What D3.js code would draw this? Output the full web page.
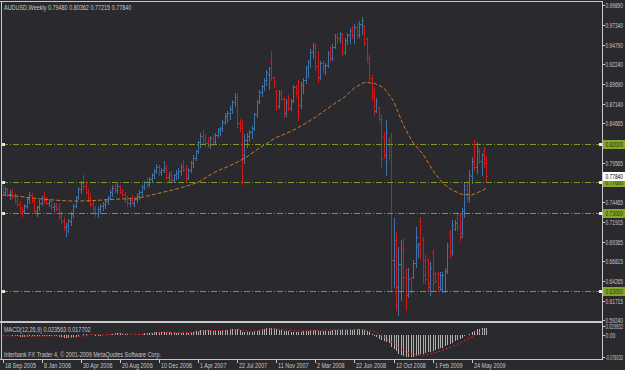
<!DOCTYPE html>
<html>
<head>
<meta charset="utf-8">
<script src="https://cdnjs.cloudflare.com/ajax/libs/d3/7.8.5/d3.min.js"></script>
<style>
  body { margin: 0; background: #2a292d; }
  svg text { font-family: "Liberation Sans", Arial, sans-serif; font-size: 7px; }
</style>
</head>
<body>
<div id="chart"></div>
<script>
// weekly AUDUSD bars, 18 Sep 2005 .. 5 Jul 2009 (199 bars)
const open = [
  .7660,.7570,.7610,.7545,.7580,.7520,.7465,.7420,.7350,.7330,
  .7400,.7480,.7540,.7470,.7330,.7380,.7440,.7500,.7470,.7440,
  .7460,.7380,.7400,.7350,.7260,.7200,.7120,.7150,.7200,.7290,
  .7400,.7510,.7610,.7690,.7650,.7580,.7500,.7420,.7360,.7300,
  .7350,.7390,.7420,.7460,.7500,.7580,.7630,.7600,.7650,.7580,
  .7550,.7480,.7430,.7470,.7440,.7480,.7530,.7570,.7640,.7700,
  .7680,.7750,.7790,.7850,.7900,.7830,.7860,.7880,.7770,.7800,
  .7730,.7790,.7820,.7850,.7900,.7870,.7760,.7860,.7950,.8020,
  .8100,.8220,.8300,.8260,.8210,.8180,.8270,.8220,.8310,.8380,
  .8400,.8480,.8560,.8600,.8650,.8740,.8800,.8470,.8400,.8050,
  .8250,.8300,.8350,.8400,.8580,.8740,.8860,.8940,.9020,.9100,
  .9250,.9060,.8880,.8680,.8850,.8780,.8600,.8740,.8660,.8750,
  .8930,.8870,.8700,.8960,.9020,.9180,.9250,.9380,.9460,.9200,
  .9060,.9240,.9200,.9210,.9370,.9300,.9450,.9580,.9560,.9620,
  .9380,.9540,.9600,.9650,.9600,.9710,.9600,.9750,.9720,.9550,
  .9300,.9050,.8900,.8620,.8660,.8520,.8300,.8050,.8250,.8200,
  .6700,.6950,.6350,.6650,.6850,.6480,.6250,.6460,.6480,.6660,
  .6880,.7200,.6950,.6700,.6700,.6350,.6800,.6520,.6520,.6350,
  .6320,.6300,.6560,.7050,.6800,.7100,.7300,.7280,.7000,.7330,
  .7650,.7500,.7780,.8200,.7900,.8100,.7980,.8100,.7948
];
const high = [
  .7670,.7640,.7630,.7600,.7610,.7560,.7520,.7460,.7400,.7420,
  .7500,.7570,.7560,.7500,.7400,.7470,.7530,.7570,.7510,.7480,
  .7470,.7430,.7430,.7440,.7330,.7250,.7170,.7230,.7320,.7420,
  .7530,.7640,.7720,.7790,.7720,.7620,.7560,.7470,.7400,.7380,
  .7420,.7450,.7490,.7530,.7600,.7660,.7680,.7690,.7670,.7620,
  .7570,.7530,.7500,.7540,.7500,.7560,.7600,.7660,.7720,.7760,
  .7770,.7820,.7870,.7940,.7930,.7890,.7970,.7920,.7830,.7850,
  .7810,.7860,.7880,.7940,.7990,.7920,.7880,.7970,.8050,.8120,
  .8240,.8340,.8370,.8330,.8290,.8300,.8320,.8340,.8400,.8420,
  .8500,.8590,.8620,.8680,.8760,.8850,.8850,.8520,.8500,.8320,
  .8340,.8380,.8430,.8600,.8760,.8890,.8960,.9050,.9150,.9190,
  .9400,.9060,.8892,.8892,.8890,.8800,.8780,.8830,.8780,.8960,
  .8960,.9020,.9000,.9050,.9200,.9280,.9420,.9500,.9480,.9400,
  .9270,.9260,.9240,.9400,.9460,.9480,.9620,.9630,.9640,.9630,
  .9560,.9630,.9690,.9720,.9740,.9760,.9780,.9834,.9731,.9576,
  .9344,.9086,.8931,.8789,.8673,.8569,.8350,.8505,.8286,.8337,
  .7240,.7060,.6866,.6956,.6982,.6595,.6595,.6466,.6698,.7124,
  .6918,.7253,.6995,.6763,.6724,.6672,.6827,.6543,.6543,.6543,
  .6543,.6595,.6918,.7085,.7215,.7215,.7318,.7305,.7369,.7692,
  .7692,.7860,.8027,.8247,.8221,.8144,.8079,.8157,.8036
];
const low = [
  .7540,.7545,.7520,.7480,.7500,.7440,.7400,.7320,.7270,.7300,
  .7370,.7440,.7450,.7300,.7260,.7340,.7410,.7440,.7420,.7400,
  .7360,.7330,.7340,.7230,.7180,.7080,.7010,.7060,.7150,.7250,
  .7380,.7490,.7560,.7620,.7560,.7460,.7390,.7320,.7260,.7250,
  .7300,.7340,.7370,.7420,.7480,.7530,.7570,.7560,.7560,.7530,
  .7450,.7400,.7390,.7420,.7400,.7450,.7480,.7540,.7610,.7640,
  .7650,.7710,.7760,.7820,.7800,.7790,.7840,.7740,.7720,.7700,
  .7700,.7750,.7760,.7800,.7850,.7700,.7740,.7840,.7900,.7990,
  .8080,.8160,.8200,.8170,.8160,.8150,.8180,.8190,.8280,.8310,
  .8360,.8450,.8480,.8520,.8600,.8690,.8420,.8360,.7680,.7950,
  .8160,.8240,.8270,.8380,.8540,.8720,.8820,.8890,.8960,.8900,
  .9020,.8930,.8634,.8660,.8760,.8540,.8560,.8630,.8640,.8740,
  .8820,.8510,.8660,.8850,.8980,.9060,.9190,.9300,.9150,.8990,
  .9030,.9130,.9100,.9190,.9270,.9280,.9440,.9500,.9510,.9340,
  .9360,.9490,.9500,.9560,.9500,.9560,.9580,.9620,.9473,.9254,
  .9021,.8763,.8569,.8608,.8505,.7898,.8015,.7795,.7989,.6311,
  .6350,.6053,.5989,.6182,.6311,.6053,.6221,.6273,.6466,.6608,
  .6737,.6724,.6402,.6402,.6311,.6247,.6311,.6414,.6311,.6311,
  .6285,.6285,.6530,.6737,.6763,.7085,.7085,.6956,.6995,.7253,
  .7447,.7447,.7692,.7860,.7821,.7950,.7795,.7899,.7722
];
const close = [
  .7570,.7610,.7545,.7580,.7520,.7465,.7420,.7350,.7330,.7400,
  .7480,.7540,.7470,.7330,.7380,.7440,.7500,.7470,.7440,.7460,
  .7380,.7400,.7350,.7260,.7200,.7120,.7150,.7200,.7290,.7400,
  .7510,.7610,.7690,.7650,.7580,.7500,.7420,.7360,.7300,.7350,
  .7390,.7420,.7460,.7500,.7580,.7630,.7600,.7650,.7580,.7550,
  .7480,.7430,.7470,.7440,.7480,.7530,.7570,.7640,.7700,.7680,
  .7750,.7790,.7850,.7900,.7830,.7860,.7880,.7770,.7800,.7730,
  .7790,.7820,.7850,.7900,.7870,.7760,.7860,.7950,.8020,.8100,
  .8220,.8300,.8260,.8210,.8180,.8270,.8220,.8310,.8380,.8400,
  .8480,.8560,.8600,.8650,.8740,.8800,.8470,.8400,.8050,.8250,
  .8300,.8350,.8400,.8580,.8740,.8860,.8940,.9020,.9120,.9170,
  .9060,.8960,.8680,.8850,.8780,.8600,.8740,.8660,.8750,.8930,
  .8870,.8700,.8960,.9020,.9180,.9250,.9380,.9460,.9200,.9060,
  .9240,.9200,.9210,.9370,.9300,.9450,.9580,.9560,.9620,.9380,
  .9540,.9600,.9650,.9600,.9710,.9600,.9750,.9790,.9500,.9300,
  .9050,.8800,.8620,.8750,.8520,.8000,.8050,.8350,.8050,.6700,
  .6950,.6350,.6650,.6850,.6480,.6250,.6450,.6300,.6660,.7000,
  .6900,.6800,.6500,.6450,.6400,.6600,.6400,.6430,.6350,.6500,
  .6500,.6560,.6880,.6800,.7150,.7180,.7120,.7050,.7330,.7620,
  .7500,.7800,.7980,.7900,.8100,.7980,.8050,.7948,.7784
];

// moving average every 4th bar
const maBar = [0,4,8,12,16,20,24,28,32,36,40,44,48,52,56,60,64,68,72,76,80,84,88,92,96,100,
  104,108,112,116,120,124,128,132,136,140,144,148,152,156,160,164,168,172,176,180,184,188,192,196,198];
const maVal = [.7537,.7530,.7515,.7500,.7485,.7475,.7465,.7460,.7460,.7465,.7470,.7478,.7485,.7490,
  .7500,.7530,.7560,.7590,.7620,.7660,.7700,.7780,.7850,.7900,.7960,.8030,.8120,.8200,.8280,.8330,
  .8390,.8460,.8540,.8630,.8720,.8800,.8920,.8990,.8980,.8920,.8750,.8440,.8210,.8066,.7860,.7692,
  .7600,.7545,.7537,.7590,.7627];

// MACD(12,26,9) histogram, one value per bar
const macd = [
  -.002,-.002,-.003,-.003,-.004,-.005,-.006,-.008,-.009,-.009,
  -.008,-.006,-.005,-.006,-.006,-.005,-.004,-.004,-.004,-.004,
  -.005,-.005,-.005,-.007,-.009,-.012,-.013,-.013,-.012,-.010,
  -.007,-.004,-.001,.001,.001,0,-.002,-.003,-.005,-.005,
  -.004,-.003,-.002,-.001,.001,.003,.004,.004,.004,.003,
  .002,.001,0,-.001,-.001,0,.001,.002,.004,.005,
  .006,.007,.008,.009,.009,.009,.009,.008,.008,.007,
  .007,.007,.007,.007,.007,.006,.006,.007,.009,.011,
  .013,.015,.016,.016,.015,.015,.014,.014,.014,.014,
  .015,.016,.017,.018,.019,.020,.018,.015,.010,.009,
  .009,.009,.010,.011,.014,.017,.019,.021,.023,.024,
  .024,.022,.019,.017,.015,.013,.012,.011,.010,.010,
  .010,.009,.010,.011,.012,.013,.015,.017,.016,.014,
  .014,.014,.013,.014,.014,.015,.016,.017,.017,.016,
  .016,.016,.017,.017,.018,.018,.019,.020,.016,.013,
  .008,.002,-.004,-.008,-.014,-.020,-.024,-.026,-.030,-.042,
  -.050,-.058,-.066,-.070,-.073,-.077,-.078,-.078,-.077,-.074,
  -.071,-.068,-.066,-.064,-.062,-.060,-.057,-.054,-.051,-.048,
  -.045,-.041,-.036,-.032,-.028,-.023,-.019,-.015,-.011,-.006,
  -.002,.003,.009,.014,.018,.021,.023,.024,.023563
];
// MACD signal line, read every 4th bar
const sigBar = maBar;
const sigVal = [-.004,-.004,-.005,-.006,-.005,-.004,-.005,-.010,-.006,0,-.001,0,.003,.002,0,.003,
  .007,.008,.007,.007,.010,.014,.014,.015,.018,.012,.012,.018,.021,.017,.013,.013,.015,.016,.017,
  .018,.018,.018,.010,-.008,-.030,-.055,-.070,-.072,-.065,-.055,-.042,-.026,-.008,.011,.017702];

const priceTicks = [0.99890,0.97340,0.94790,0.92240,0.89690,0.87140,0.84665,0.79565,
  0.74465,0.71915,0.69365,0.66815,0.64265,0.61715,0.59240];
const levels = [0.82, 0.77, 0.73, 0.63];
const dateBar = [0,16,32,48,64,80,96,112,128,144,160,176,192];
const dateLabels = ["18 Sep 2005","8 Jan 2006","30 Apr 2006","20 Aug 2006","10 Dec 2006",
  "1 Apr 2007","22 Jul 2007","11 Nov 2007","2 Mar 2008","22 Jun 2008","12 Oct 2008",
  "1 Feb 2009","24 May 2009"];
const macdTicks = [0.029932, 0, -0.078033];
const macdTickLabels = ["0.029932", "0.00", "-0.078033"];

const W = 625, H = 370;
const axisX = 602;
const textColor = "#c8c8c8", frameColor = "#c8c8c8";
const upColor = "#3f72a6", downColor = "#cc1a1a";
const levelColor = "#7a9a28";

const svg = d3.select("#chart").append("svg")
  .attr("width", W).attr("height", H)
  .style("display", "block");

svg.append("rect").attr("width", W).attr("height", H).attr("fill", "#2a292d");

const x = d3.scaleLinear().domain([0, 198]).range([2.5, 2.5 + 198 * 2.444]);
const y = d3.scaleLinear().domain([0.5924, 0.9989]).range([320, 5]);
const ym = d3.scaleLinear().domain([-0.078033, 0.029932]).range([357, 326]);

// squeeze text horizontally like the narrow terminal font
function squeeze(sel, k) {
  sel.each(function() {
    const w = this.getComputedTextLength();
    d3.select(this).attr("textLength", w * k).attr("lengthAdjust", "spacingAndGlyphs");
  });
}

// right-axis label: narrowed with a scale transform so it ends inside the picture
function axisLabel(g, yy, str, fill) {
  const t = g.append("g")
    .append("text").attr("x", 0).attr("y", 0).attr("fill", fill).text(str);
  const w = t.node().getComputedTextLength();
  const k = Math.min(0.72, (W - 2 - (axisX + 3.5)) / w);
  d3.select(t.node().parentNode).attr("transform", `translate(${axisX + 3.5},${yy + 2.5}) scale(${k},1)`);
}

// price bars
const bars = svg.append("g").attr("shape-rendering", "crispEdges").attr("fill", "none");
bars.selectAll("path")
  .data(d3.range(close.length))
  .join("path")
  .attr("stroke", i => close[i] >= open[i] ? upColor : downColor)
  .attr("d", i => {
    const xr = Math.round(x(i));
    const yo = Math.round(y(open[i])) + 0.5, yc = Math.round(y(close[i])) + 0.5;
    return `M${xr + 0.5},${Math.round(y(high[i]))}V${Math.round(y(low[i])) + 1}` +
      `M${xr - 1},${yo}H${xr}M${xr + 1},${yc}H${xr + 2}`;
  });

// moving average
svg.append("path")
  .datum(maBar.map((b, k) => [b, maVal[k]]))
  .attr("fill", "none")
  .attr("stroke", "#c97a22")
  .attr("stroke-width", 1)
  .attr("stroke-dasharray", "4,2")
  .attr("d", d3.line().x(d => x(d[0])).y(d => y(d[1])));

// horizontal levels
const lv = svg.append("g");
levels.forEach(v => {
  const yy = Math.round(y(v)) + 0.5;
  lv.append("line").attr("x1", 2).attr("x2", axisX).attr("y1", yy).attr("y2", yy)
    .attr("stroke", levelColor).attr("stroke-dasharray", "6,2,1,2");
  lv.append("rect").attr("x", 2).attr("y", yy - 1.5).attr("width", 3).attr("height", 3).attr("fill", "#dfe8c8");
  lv.append("rect").attr("x", axisX - 3).attr("y", yy - 1.5).attr("width", 3).attr("height", 3).attr("fill", "#f0f0f0");
});

// frame
const frame = svg.append("g").attr("stroke", frameColor).attr("shape-rendering", "crispEdges");
frame.append("line").attr("x1", 0).attr("x2", axisX).attr("y1", 1.5).attr("y2", 1.5);
frame.append("line").attr("x1", 1.5).attr("x2", 1.5).attr("y1", 1).attr("y2", 359);
frame.append("line").attr("x1", axisX + 0.5).attr("x2", axisX + 0.5).attr("y1", 1).attr("y2", 360);
frame.append("rect").attr("x", 0).attr("y", 321).attr("width", axisX).attr("height", 2)
  .attr("fill", frameColor).attr("stroke", "none");
frame.append("line").attr("x1", 0).attr("x2", axisX + 1).attr("y1", 359.5).attr("y2", 359.5);

// price axis
const pa = svg.append("g");
priceTicks.forEach(v => {
  const yy = Math.round(y(v)) + 0.5;
  pa.append("line").attr("x1", axisX).attr("x2", axisX + 3).attr("y1", yy).attr("y2", yy)
    .attr("stroke", frameColor);
  axisLabel(pa, yy, v.toFixed(5), textColor);
});
// level price labels
levels.forEach(v => {
  const yy = Math.round(y(v)) + 0.5;
  pa.append("rect").attr("x", axisX + 1).attr("y", yy - 4.5).attr("width", W - axisX).attr("height", 9)
    .attr("fill", "#86a62a");
  axisLabel(pa, yy, v.toFixed(5), "#22300a");
});
// current price label
{
  const last = close[close.length - 1];
  const yy = Math.round(y(last)) + 0.5;
  pa.append("rect").attr("x", axisX + 1).attr("y", yy - 4.5).attr("width", W - axisX).attr("height", 9)
    .attr("fill", "#ffffff");
  axisLabel(pa, yy, last.toFixed(5), "#000000");
}

// MACD histogram
const mg = svg.append("g").attr("shape-rendering", "crispEdges");
mg.selectAll("line")
  .data(d3.range(macd.length))
  .join("line")
  .attr("x1", i => Math.round(x(i)) + 0.5)
  .attr("x2", i => Math.round(x(i)) + 0.5)
  .attr("y1", ym(0))
  .attr("y2", i => ym(macd[i]))
  .attr("stroke", "#b0b0b0");
svg.append("path")
  .datum(sigBar.map((b, k) => [b, sigVal[k]]))
  .attr("fill", "none")
  .attr("stroke", "#e02424")
  .attr("stroke-dasharray", "2,2")
  .attr("d", d3.line().x(d => x(d[0])).y(d => ym(d[1])));

macdTicks.forEach((v, k) => {
  const yy = Math.round(ym(v)) + 0.5;
  pa.append("line").attr("x1", axisX).attr("x2", axisX + 3).attr("y1", yy).attr("y2", yy)
    .attr("stroke", frameColor);
  axisLabel(pa, yy, macdTickLabels[k], textColor);
});

// date axis
const da = svg.append("g");
dateBar.forEach((b, k) => {
  const xx = Math.round(x(b)) + 0.5;
  da.append("line").attr("x1", xx).attr("x2", xx).attr("y1", 359).attr("y2", 363)
    .attr("stroke", frameColor);
  da.append("text").attr("x", xx + 1.5).attr("y", 368).attr("fill", textColor)
    .text(dateLabels[k]);
});

// captions
const cap = svg.append("g");
cap.append("text").attr("x", 4).attr("y", 10).attr("fill", textColor)
  .text("AUDUSD,Weekly  0.79480 0.80362 0.77215 0.77840");
cap.append("text").attr("x", 4).attr("y", 332).attr("fill", textColor)
  .text("MACD(12,26,9) 0.023563 0.017702");
cap.append("text").attr("x", 4).attr("y", 357).attr("fill", textColor)
  .text("Interbank FX Trader 4, \u00a9 2001-2009 MetaQuotes Software Corp.");

squeeze(cap.selectAll("text"), 0.78);
squeeze(da.selectAll("text"), 0.78);
</script>
</body>
</html>
